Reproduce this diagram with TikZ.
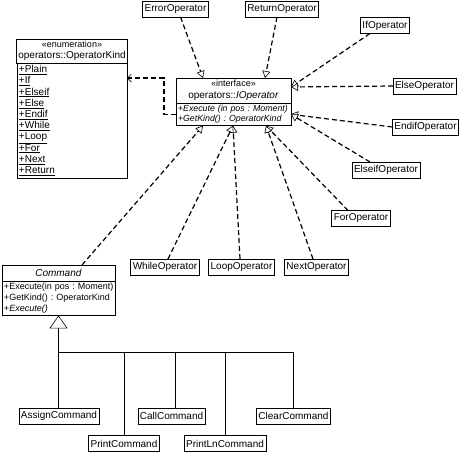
\documentclass[tikz,border=0pt]{standalone}
\usepackage{fontspec}
\setmainfont{Liberation Sans}
\frenchspacing
\usetikzlibrary{arrows.meta,positioning}
\newcommand{\stereo}[1]{{\fontsize{9}{10}\selectfont «#1»}}
\tikzset{%
  % Specifications for style of nodes:
        base/.style = {rectangle, draw=black, line width=0.6pt, inner sep=2pt,
                       outer sep=0pt, font=\fontsize{10}{11.2}\selectfont},
    operator/.style = {base, minimum height=16pt},
   classHead/.style = {base, align=center, font=\fontsize{10}{11.5}\selectfont},
   classBody/.style = {base, align=left, font=\fontsize{9}{11}\selectfont},
  % Specifications for style of connectors:
     realize/.style = {dash pattern=on 5pt off 3pt, line width=1.2pt,
                       -{Triangle[width=8pt, length=7pt, fill=white, line width=0.6pt]}},
      depend/.style = {dash pattern=on 5pt off 3pt, line width=1.2pt,
                       -{Straight Barb[width=8pt, length=4pt, line width=0.6pt]}},
     inherit/.style = {line width=0.6pt,
                       -{Triangle[width=18pt, length=13pt, fill=white]}},
}

\begin{document}
\begin{tikzpicture}[x=1pt, y=-1pt]
  \useasboundingbox (0,0) rectangle (461,454);

  % Specification of nodes (position, etc.)
  \node (iop)       [classHead, minimum width=115pt, minimum height=25pt] at (233.5,90.5)
                    {\stereo{interface}\\operators::\textit{IOperator}};
  \node (iopOps)    [classBody, text width=111pt, minimum height=22pt, below=0pt of iop,
                     font=\fontsize{8.8}{10.5}\selectfont]
                    {\mbox{+\textit{Execute (in pos : Moment)}}\\
                     \mbox{+\textit{GetKind() : OperatorKind}}};

  \node (enumHead)  [classHead, minimum width=110pt, minimum height=22pt] at (72,51)
                    {\stereo{enumeration}\\operators::OperatorKind};
  \node (enumBody)  [classBody, text width=106pt, minimum height=115pt, below=0pt of enumHead,
                     font=\fontsize{10}{11.2}\selectfont]
                    {\underline{+Plain}\\\underline{+If}\\\underline{+Elseif}\\\underline{+Else}\\
                     \underline{+Endif}\\\underline{+While}\\\underline{+Loop}\\\underline{+For}\\
                     \underline{+Next}\\\underline{+Return}};

  \node (errorOp)   [operator] at (175.5,9)   {ErrorOperator};
  \node (returnOp)  [operator] at (282,9)     {ReturnOperator};
  \node (ifOp)      [operator] at (385,25.5)  {IfOperator};
  \node (elseOp)    [operator] at (424.5,86)  {ElseOperator};
  \node (endifOp)   [operator] at (425.5,127) {EndifOperator};
  \node (elseifOp)  [operator] at (386,170)   {ElseifOperator};
  \node (forOp)     [operator] at (361,218.5) {ForOperator};
  \node (whileOp)   [operator] at (165,267)   {WhileOperator};
  \node (loopOp)    [operator] at (241.5,267) {LoopOperator};
  \node (nextOp)    [operator] at (316.5,267) {NextOperator};

  \node (cmdHead)   [classHead, minimum width=113pt, minimum height=16pt] at (58.5,273)
                    {\textit{Command}};
  \node (cmdBody)   [classBody, text width=109pt, minimum height=28pt, below=0pt of cmdHead]
                    {\mbox{+Execute(in pos : Moment)}\\\mbox{+GetKind() : OperatorKind}\\
                     +\textit{Execute()}};

  \node (assignCmd)  [operator] at (59,416)    {AssignCommand};
  \node (printCmd)   [operator] at (124,443.5) {PrintCommand};
  \node (callCmd)    [operator] at (171.5,416) {CallCommand};
  \node (printLnCmd) [operator] at (225,443.5) {PrintLnCommand};
  \node (clearCmd)   [operator] at (293.5,416) {ClearCommand};
  \coordinate (cmdBus) at (58.5,352);

  % Specification of lines between nodes specified above
  \draw[realize] ([xshift=5pt]errorOp.south)   -- ([xshift=27pt]iop.north west);
  \draw[realize] ([xshift=-5pt]returnOp.south) -- ([xshift=89pt]iop.north west);
  \draw[realize] ([xshift=-15pt]ifOp.south)    -- ([yshift=3.5pt]iop.east);
  \draw[realize] (elseOp.west)                 -- ([yshift=3.5pt]iop.east);
  \draw[realize] (endifOp.west)                -- (iopOps.east);
  \draw[realize] ([xshift=-16pt]elseifOp.north) -- (iopOps.east);
  \draw[realize] ([xshift=-13pt]forOp.north)   -- ([xshift=-25pt]iopOps.south east);
  \draw[realize] ([xshift=-3.5pt]nextOp.north) -- ([xshift=-25pt]iopOps.south east);
  \draw[realize] ([xshift=-1.5pt]loopOp.north) -- ([xshift=57pt]iopOps.south west);
  \draw[realize] ([xshift=3pt]whileOp.north)   -- ([xshift=57pt]iopOps.south west);
  \draw[realize] ([xshift=23.5pt]cmdHead.north) -- ([xshift=27pt]iopOps.south west);

  \draw[depend]  (iopOps.west) -- ++(-12,0) |- ([yshift=42.5pt]enumBody.east);

  % generalization tree below Command
  \draw[inherit] (cmdBus) -- (cmdBody.south);
  \draw[line width=0.6pt] (cmdBus) -| (clearCmd.north);
  \draw[line width=0.6pt] (cmdBus) -- (cmdBus |- assignCmd.north);
  \foreach \sub in {printCmd, printLnCmd}
    \draw[line width=0.6pt] (\sub.north) -- (\sub.north |- cmdBus);
  \draw[line width=0.6pt] ([xshift=4pt]callCmd.north) -- ([xshift=4pt]callCmd.north |- cmdBus);

\end{tikzpicture}
\end{document}
